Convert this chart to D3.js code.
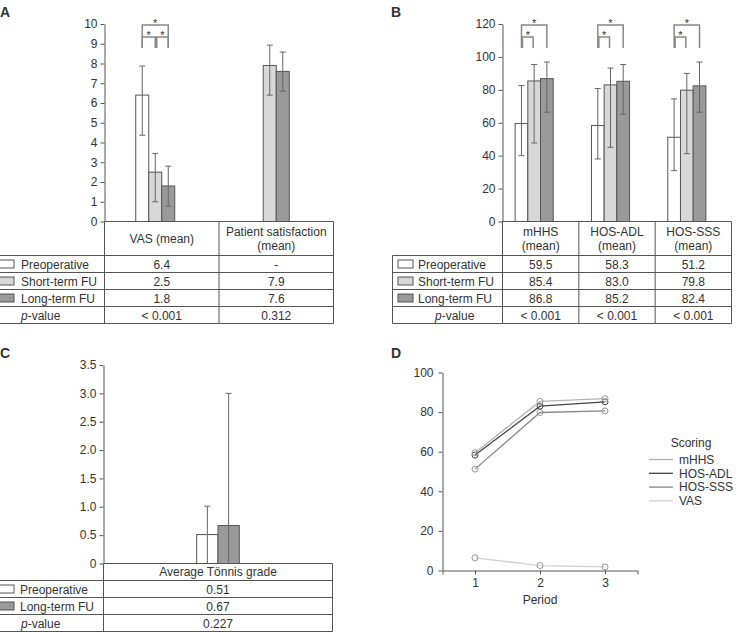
<!DOCTYPE html>
<html>
<head>
<meta charset="utf-8">
<script src="https://cdn.jsdelivr.net/npm/d3@7"></script>
<style>
body { margin: 0; background: #fff; }
text { font-family: "Liberation Sans", Arial, sans-serif; fill: #333; }
</style>
</head>
<body>
<svg id="chart" width="739" height="632"></svg>
<script>
// ---- data: panel A ----
var groupsA = ["VAS (mean)", "Patient satisfaction|(mean)"];
var preA = [6.4, null], shortA = [2.5, 7.9], longA = [1.8, 7.6];
var preErrA = [[4.37, 7.87], null], shortErrA = [[1.0, 3.45], [6.4, 8.93]], longErrA = [[0.78, 2.8], [6.6, 8.58]];
var ticksA = [0, 1, 2, 3, 4, 5, 6, 7, 8, 9, 10];
var tablePreA = ["6.4", "-"], tableShortA = ["2.5", "7.9"], tableLongA = ["1.8", "7.6"], pvalA = ["< 0.001", "0.312"];

// ---- data: panel B ----
var groupsB = ["mHHS|(mean)", "HOS-ADL|(mean)", "HOS-SSS|(mean)"];
var preB = [59.5, 58.3, 51.2], shortB = [85.4, 83.0, 79.8], longB = [86.8, 85.2, 82.4];
var preErrB = [[40.0, 82.6], [38.0, 80.8], [30.9, 74.5]];
var shortErrB = [[47.7, 95.4], [45.1, 93.2], [41.2, 90.0]];
var longErrB = [[66.4, 96.9], [65.2, 95.4], [66.4, 96.9]];
var ticksB = [0, 20, 40, 60, 80, 100, 120];
var tablePreB = ["59.5", "58.3", "51.2"], tableShortB = ["85.4", "83.0", "79.8"], tableLongB = ["86.8", "85.2", "82.4"];
var pvalB = ["< 0.001", "< 0.001", "< 0.001"];

// ---- data: panel C ----
var groupsC = ["Average Tönnis grade"];
var preC = [0.51], longC = [0.67];
var preErrC = [[0, 1.01]], longErrC = [[0, 3.0]];
var ticksC = [0, 0.5, 1.0, 1.5, 2.0, 2.5, 3.0, 3.5];
var tablePreC = ["0.51"], tableLongC = ["0.67"], pvalC = ["0.227"];

// ---- data: panel D ----
var periods = [1, 2, 3];
var mhhsD = [59.5, 85.4, 86.8];
var hosAdlD = [58.3, 83.0, 85.2];
var hosSssD = [51.2, 79.8, 80.6];
var vasD = [6.4, 2.5, 1.8];
var ticksDy = [0, 20, 40, 60, 80, 100];

var fillPre = "#ffffff", fillShort = "#d8d8d8", fillLong = "#9a9a9a";
var lineCol = "#555";

var svg = d3.select("#chart");

function styleAxis(g) {
  g.select(".domain").attr("stroke", lineCol);
  g.selectAll(".tick line").attr("stroke", lineCol);
  g.selectAll(".tick text").attr("font-size", 12).attr("fill", "#333")
    .attr("font-family", "Liberation Sans, Arial, sans-serif");
}

function barPanel(c) {
  var g = svg.append("g");
  var y = d3.scaleLinear().domain([0, c.yMax]).range([c.zeroY, c.topY]);
  var x = d3.scaleBand().domain(c.groups).range([c.axisX, c.rightX]);
  var slot = d3.scaleBand().domain(d3.range(c.nSlots)).range([0, c.nSlots * c.slotW]);

  function barX(gi, s) {
    var cx = x(c.groups[gi]) + x.bandwidth() / 2 + c.offset;
    return cx - c.nSlots * c.slotW / 2 + slot(s);
  }

  // bars
  c.series.forEach(function(s) {
    c.groups.forEach(function(grp, i) {
      if (s.vals[i] == null) return;
      g.append("rect")
        .attr("x", barX(i, s.slot))
        .attr("y", y(s.vals[i]))
        .attr("width", c.slotW)
        .attr("height", c.zeroY - y(s.vals[i]))
        .attr("fill", s.fill)
        .attr("stroke", lineCol)
        .attr("stroke-width", 1);
    });
  });
  // error bars
  c.series.forEach(function(s) {
    c.groups.forEach(function(grp, i) {
      var e = s.errs[i];
      if (!e) return;
      var cx = barX(i, s.slot) + c.slotW / 2;
      var eg = g.append("g").attr("stroke", "#666").attr("stroke-width", 1);
      eg.append("line").attr("x1", cx).attr("x2", cx).attr("y1", y(e[0])).attr("y2", y(e[1]));
      eg.append("line").attr("x1", cx - c.capW).attr("x2", cx + c.capW).attr("y1", y(e[1])).attr("y2", y(e[1]));
      if (e[0] > 0)
        eg.append("line").attr("x1", cx - c.capW).attr("x2", cx + c.capW).attr("y1", y(e[0])).attr("y2", y(e[0]));
    });
  });

  // significance brackets
  if (c.sig) {
    c.groups.forEach(function(grp, i) {
      c.sig.forEach(function(sg) {
        var x1 = barX(i, sg[0]) + c.slotW / 2 + (sg[2] ? 1 : 0);
        var x2 = barX(i, sg[1]) + c.slotW / 2 - (sg[2] && sg[1] < 2 ? 1 : 0);
        var yTop = c.topY + 1 + sg[2] * 12, yBot = c.topY + 24;
        g.append("path")
          .attr("d", "M" + x1 + "," + yBot + "V" + yTop + "H" + x2 + "V" + yBot)
          .attr("fill", "none").attr("stroke", "#888").attr("stroke-width", 1.5);
        g.append("text").attr("x", (x1 + x2) / 2).attr("y", yTop + 2)
          .attr("text-anchor", "middle").attr("font-size", 11).text("*");
      });
    });
  }

  // y axis
  var ax = g.append("g").attr("transform", "translate(" + c.axisX + ",0)")
    .call(d3.axisLeft(y).tickValues(c.ticks).tickFormat(c.fmt).tickSizeInner(4).tickSizeOuter(0).tickPadding(3));
  styleAxis(ax);

  // table
  var rowTop = c.zeroY + c.headerH;
  var nRows = c.rows.length;
  var bottom = rowTop + nRows * c.rowH;
  var tl = g.append("g").attr("stroke", lineCol).attr("stroke-width", 1);
  tl.append("line").attr("x1", c.axisX).attr("x2", c.rightX).attr("y1", c.zeroY).attr("y2", c.zeroY);
  for (var k = 0; k <= nRows; k++) {
    var yy = rowTop + k * c.rowH;
    tl.append("line").attr("x1", c.borderX).attr("x2", c.rightX).attr("y1", yy).attr("y2", yy);
  }
  var vx = [c.axisX].concat(c.groups.map(function(gr) { return x(gr) + x.bandwidth(); }));
  vx.forEach(function(v) {
    tl.append("line").attr("x1", v).attr("x2", v).attr("y1", c.zeroY).attr("y2", bottom);
  });
  if (c.leftBorder)
    tl.append("line").attr("x1", c.borderX).attr("x2", c.borderX).attr("y1", rowTop).attr("y2", bottom);

  // header text
  c.groups.forEach(function(grp) {
    var parts = grp.split("|");
    var cx = x(grp) + x.bandwidth() / 2;
    var cy = c.zeroY + c.headerH / 2;
    parts.forEach(function(p, j) {
      g.append("text").attr("x", cx).attr("y", cy + 4 + (j - (parts.length - 1) / 2) * 14)
        .attr("text-anchor", "middle").attr("font-size", 12).text(p);
    });
  });

  // rows
  c.rows.forEach(function(r, k) {
    var cy = rowTop + k * c.rowH + c.rowH / 2;
    if (r.fill) {
      g.append("rect").attr("x", c.swatchX).attr("y", cy - 4).attr("width", 15).attr("height", 8)
        .attr("fill", r.fill).attr("stroke", lineCol).attr("stroke-width", 1);
      g.append("text").attr("x", c.labelX).attr("y", cy + 4.5).attr("font-size", 12).text(r.label);
    } else {
      var t = g.append("text").attr("x", c.pX).attr("y", cy + 4.5).attr("font-size", 12);
      t.append("tspan").attr("font-style", "italic").text("p");
      t.append("tspan").text("-value");
    }
    r.texts.forEach(function(s, i) {
      g.append("text").attr("x", x(c.groups[i]) + x.bandwidth() / 2).attr("y", cy + 4.5)
        .attr("text-anchor", "middle").attr("font-size", 12).text(s);
    });
  });
}

// panel A
barPanel({
  groups: groupsA, yMax: 10, ticks: ticksA, fmt: d3.format("d"),
  axisX: 104.5, rightX: 333.5, topY: 24, zeroY: 221.5,
  nSlots: 3, slotW: 13, offset: -6.5, capW: 3,
  series: [
    { vals: preA, errs: preErrA, fill: fillPre, slot: 0 },
    { vals: shortA, errs: shortErrA, fill: fillShort, slot: 1 },
    { vals: longA, errs: longErrA, fill: fillLong, slot: 2 }
  ],
  sig: null,
  headerH: 34, rowH: 17, borderX: 0, leftBorder: false, swatchX: -1, labelX: 21, pX: 21,
  rows: [
    { label: "Preoperative", fill: fillPre, texts: tablePreA },
    { label: "Short-term FU", fill: fillShort, texts: tableShortA },
    { label: "Long-term FU", fill: fillLong, texts: tableLongA },
    { texts: pvalA }
  ]
});

// panel B
barPanel({
  groups: groupsB, yMax: 120, ticks: ticksB, fmt: d3.format("d"),
  axisX: 502.5, rightX: 731.5, topY: 24, zeroY: 221.5,
  nSlots: 3, slotW: 12.7, offset: -6.5, capW: 3,
  series: [
    { vals: preB, errs: preErrB, fill: fillPre, slot: 0 },
    { vals: shortB, errs: shortErrB, fill: fillShort, slot: 1 },
    { vals: longB, errs: longErrB, fill: fillLong, slot: 2 }
  ],
  sig: [[0, 2, 0], [0, 1, 1]],
  headerH: 34, rowH: 17, borderX: 392.5, leftBorder: true, swatchX: 398, labelX: 418, pX: 435,
  rows: [
    { label: "Preoperative", fill: fillPre, texts: tablePreB },
    { label: "Short-term FU", fill: fillShort, texts: tableShortB },
    { label: "Long-term FU", fill: fillLong, texts: tableLongB },
    { texts: pvalB }
  ]
});

// brackets for panel A (three comparisons on the VAS group only)
(function() {
  var sigA = [[0, 2, 0], [0, 1, 1], [1, 2, 1]];
  var x = d3.scaleBand().domain(groupsA).range([104.5, 333.5]);
  var start = x(groupsA[0]) + x.bandwidth() / 2 - 6.5 - 19.5;
  sigA.forEach(function(sg) {
    var x1 = start + sg[0] * 13 + 6.5 + (sg[2] && sg[0] > 0 ? 1.5 : 0);
    var x2 = start + sg[1] * 13 + 6.5;
    var yTop = 25 + sg[2] * 12, yBot = 48;
    svg.append("path").attr("d", "M" + x1 + "," + yBot + "V" + yTop + "H" + x2 + "V" + yBot)
      .attr("fill", "none").attr("stroke", "#888").attr("stroke-width", 1.5);
    svg.append("text").attr("x", (x1 + x2) / 2).attr("y", yTop + 2)
      .attr("text-anchor", "middle").attr("font-size", 11).text("*");
  });
})();

// panel C
barPanel({
  groups: groupsC, yMax: 3.5, ticks: ticksC,
  fmt: function(d) { return d === 0 ? "0" : d.toFixed(1); },
  axisX: 103.5, rightX: 332.5, topY: 365, zeroY: 563.5,
  nSlots: 2, slotW: 21.3, offset: 0, capW: 3,
  series: [
    { vals: preC, errs: preErrC, fill: fillPre, slot: 0 },
    { vals: longC, errs: longErrC, fill: fillLong, slot: 1 }
  ],
  sig: null,
  headerH: 17, rowH: 17, borderX: 0, leftBorder: false, swatchX: -1, labelX: 20, pX: 21,
  rows: [
    { label: "Preoperative", fill: fillPre, texts: tablePreC },
    { label: "Long-term FU", fill: fillLong, texts: tableLongC },
    { texts: pvalC }
  ]
});

// panel D
(function() {
  var g = svg.append("g");
  var x = d3.scaleLinear().domain([0.5, 3.5]).range([442.5, 637.5]);
  var y = d3.scaleLinear().domain([0, 100]).range([570.5, 372.5]);
  var series = [
    { name: "mHHS", vals: mhhsD, color: "#b4b4b4" },
    { name: "HOS-ADL", vals: hosAdlD, color: "#444" },
    { name: "HOS-SSS", vals: hosSssD, color: "#888" },
    { name: "VAS", vals: vasD, color: "#d2d2d2" }
  ];
  var line = d3.line().x(function(d, i) { return x(periods[i]); }).y(function(d) { return y(d); });
  series.slice().reverse().forEach(function(s) {
    g.append("path").attr("d", line(s.vals)).attr("fill", "none")
      .attr("stroke", s.color).attr("stroke-width", 1.3);
    g.selectAll(null).data(s.vals).enter().append("circle")
      .attr("cx", function(d, i) { return x(periods[i]); })
      .attr("cy", function(d) { return y(d); })
      .attr("r", 3).attr("fill", "none")
      .attr("stroke", s.name === "HOS-ADL" ? "#444" : "#999").attr("stroke-width", 1);
  });

  var ay = g.append("g").attr("transform", "translate(442.5,0)")
    .call(d3.axisLeft(y).tickValues(ticksDy).tickSizeInner(4).tickSizeOuter(0).tickPadding(5));
  styleAxis(ay);
  var ax = g.append("g").attr("transform", "translate(0,570.5)")
    .call(d3.axisBottom(x).tickValues(periods).tickFormat(d3.format("d")).tickSizeInner(4).tickSizeOuter(4).tickPadding(4));
  styleAxis(ax);
  g.append("text").attr("x", x(2)).attr("y", 604).attr("text-anchor", "middle").attr("font-size", 12).text("Period");

  // legend
  g.append("text").attr("x", 691).attr("y", 447).attr("text-anchor", "middle").attr("font-size", 12).text("Scoring");
  series.forEach(function(s, i) {
    var yy = 459.5 + i * 13.8;
    g.append("line").attr("x1", 649).attr("x2", 673).attr("y1", yy).attr("y2", yy)
      .attr("stroke", s.color).attr("stroke-width", 1.3);
    g.append("text").attr("x", 679).attr("y", yy + 4.3).attr("font-size", 12).text(s.name);
  });
})();

// panel letters
svg.append("text").attr("x", 0).attr("y", 17).attr("font-size", 14).attr("font-weight", "bold").text("A");
svg.append("text").attr("x", 391).attr("y", 17).attr("font-size", 14).attr("font-weight", "bold").text("B");
svg.append("text").attr("x", 0).attr("y", 358).attr("font-size", 14).attr("font-weight", "bold").text("C");
svg.append("text").attr("x", 391).attr("y", 358).attr("font-size", 14).attr("font-weight", "bold").text("D");
</script>
</body>
</html>
